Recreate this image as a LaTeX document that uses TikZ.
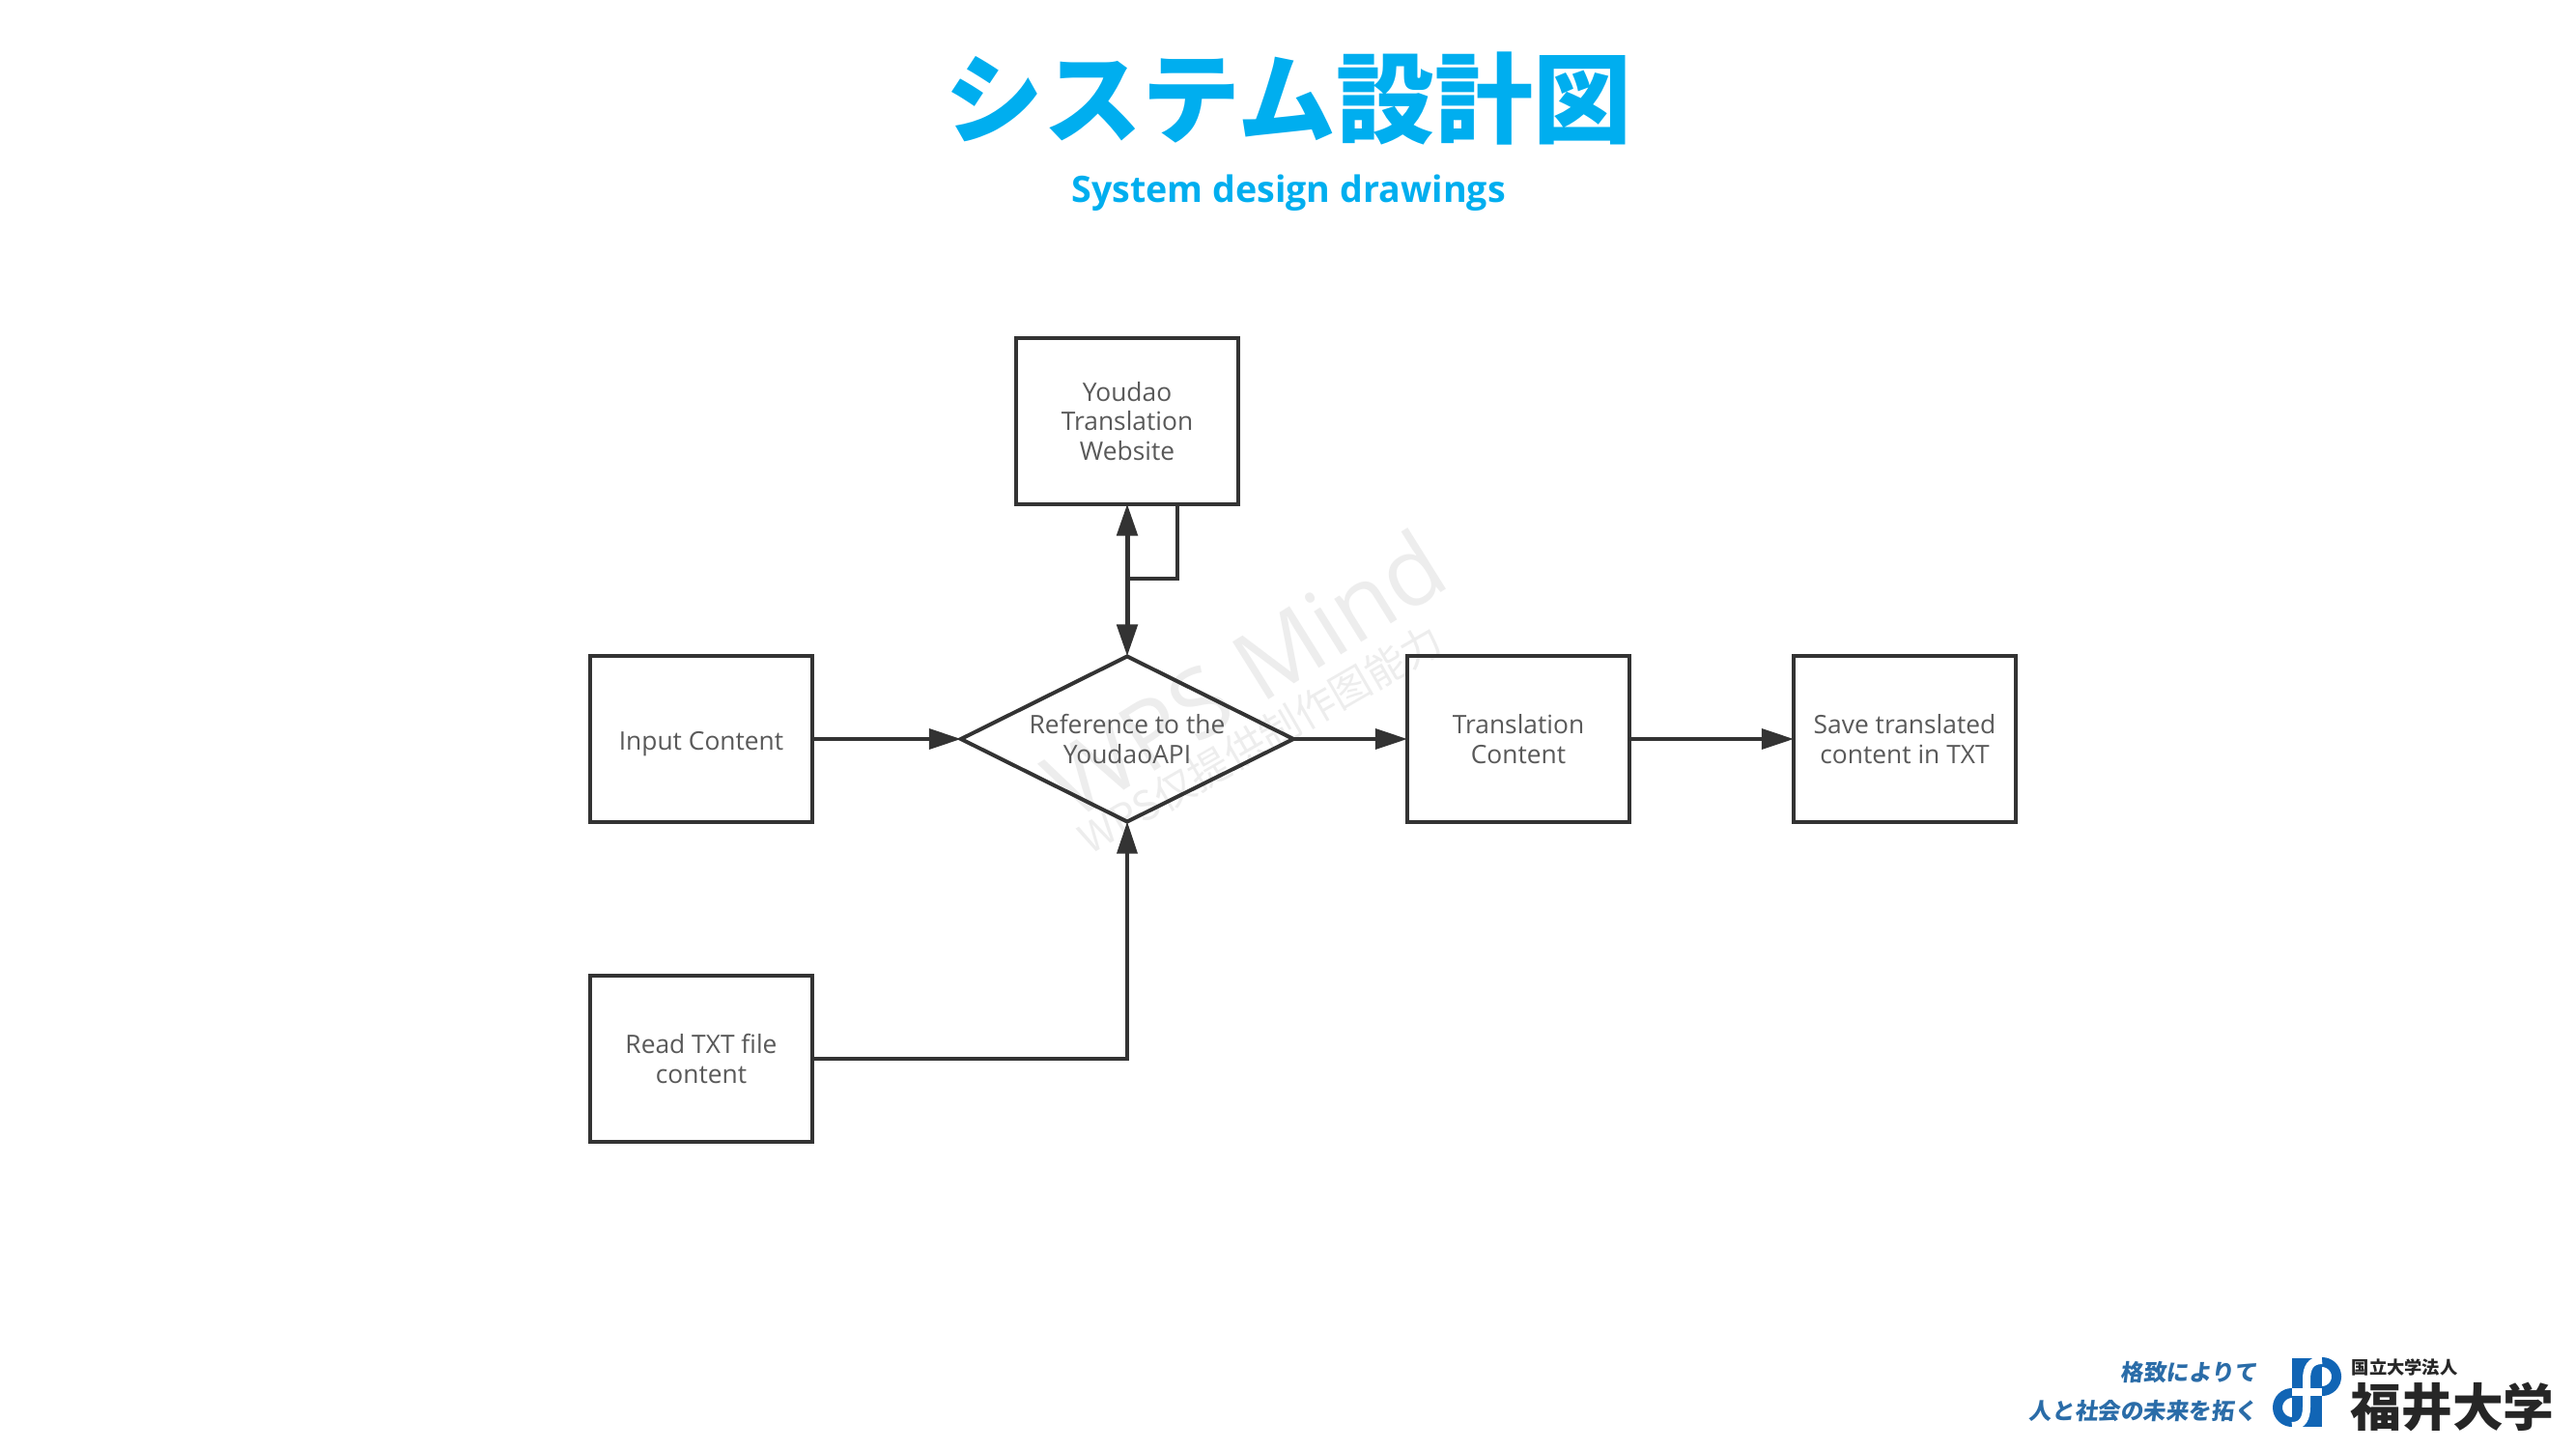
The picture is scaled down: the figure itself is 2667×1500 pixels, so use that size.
\documentclass[tikz,border=0pt]{standalone}
\usepackage{fontspec}
\setmainfont{Open Sans}
\newfontfamily\jpfont{Noto Sans CJK JP}
\newfontfamily\jpslant{Noto Sans CJK JP}[FakeSlant=0.12]
\usetikzlibrary{arrows.meta, shapes.geometric}
\definecolor{titleblue}{HTML}{00AEEF}
\definecolor{logoblue}{HTML}{1165B5}
\definecolor{mottoblue}{HTML}{2A6CA8}
\definecolor{inkgray}{HTML}{333333}
\begin{document}
\begin{tikzpicture}[x=0.01cm, y=-0.01cm, >={Triangle[length=0.33cm, width=0.21cm]},
    block/.style={draw=inkgray, line width=0.04cm, outer sep=0pt, minimum width=2.3cm, minimum height=1.71cm, align=center, text=black!65, font=\fontsize{7.5}{8.7}\selectfont},
    decision/.style={block, diamond, shape aspect=2, inner sep=0pt, minimum width=3.44cm, minimum height=1.71cm},
    flow/.style={->, draw=inkgray, line width=0.035cm}]
    \useasboundingbox (0, 0) rectangle (2667, 1500);

    % 标题
    \node[text=titleblue, font=\jpfont\bfseries\fontsize{29}{31}\selectfont] (title) at (1334, 102) {システム設計図};
    \node[text=titleblue, font=\bfseries\fontsize{10.7}{12}\selectfont] (subtitle) at (1334, 200) {System design drawings};

    % 水印
    \node[text=black!7, rotate=32, font=\fontsize{28}{30}\selectfont] (mark1) at (1288, 697) {WPS Mind};
    \node[text=black!7, rotate=30, font=\jpfont\fontsize{12}{14}\selectfont] (mark2) at (1305, 765) {WPS仅提供制作图能力};

    % 流程图
    \node[block] (youdao) at (1167, 436) {Youdao\\Translation\\Website};
    \node[decision] (api) at (1167, 765) {Reference to the\\YoudaoAPI};
    \node[block] (input) at (726, 765) {\smash{\raisebox{-3.4pt}{Input Content}}};
    \node[block] (readtxt) at (726, 1096) {Read TXT file\\content};
    \node[block] (result) at (1572, 765) {Translation\\Content};
    \node[block] (save) at (1972, 765) {Save translated\\content in TXT};

    \coordinate (loopstart) at (1219, 522);
    \coordinate (loopend) at (1219, 599);
    \coordinate (junction) at (1167, 599);

    \draw[flow] (input) -- (api);
    \draw[flow] (api) -- (result);
    \draw[flow] (result) -- (save);
    \draw[flow] (readtxt) -| (api);
    \draw[flow, <->, line width=0.05cm] (api) -- (youdao);
    \draw[draw=inkgray, line width=0.035cm] (loopstart) -- (loopend) -- (junction);

    % 校章
    \begin{scope}
        \draw[logoblue, line width=0.1cm] (2404, 1425) circle (0.15cm);
        \draw[logoblue, line width=0.1cm] (2373, 1457) circle (0.15cm);
        \fill[logoblue] (2373, 1406) rectangle (2404, 1477);
        \draw[white, line width=0.08cm] (2404, 1408) .. controls (2392, 1408) and (2388, 1416) .. (2388, 1428) -- (2388, 1456) .. controls (2388, 1468) and (2384, 1476) .. (2373, 1476);
        \draw[white, line width=0.08cm] (2373, 1441) -- (2404, 1441);
    \end{scope}
    \node[text=mottoblue, font=\jpslant\bfseries\fontsize{6.7}{7}\selectfont, anchor=east] (motto1) at (2349, 1421) {格致によりて};
    \node[text=mottoblue, font=\jpslant\bfseries\fontsize{6.7}{7}\selectfont, anchor=east] (motto2) at (2349, 1461) {人と社会の未来を拓く};
    \node[text=black!85, font=\jpfont\bfseries\fontsize{5.2}{6}\selectfont, anchor=west, inner sep=0pt] (corp) at (2434, 1415) {国立大学法人};
    \node[text=black!85, font=\jpfont\bfseries\fontsize{15}{16}\selectfont, anchor=west, inner sep=0pt] (univ) at (2433, 1456) {福井大学};
\end{tikzpicture}
\end{document}
